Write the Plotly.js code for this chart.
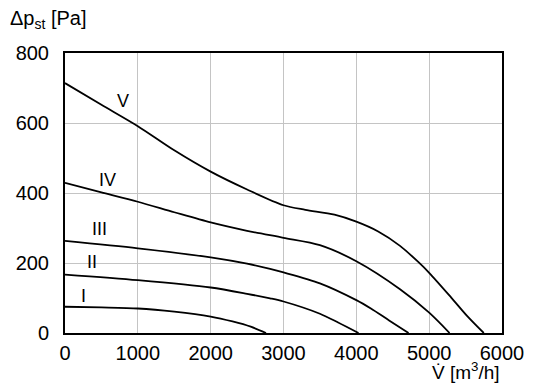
<!DOCTYPE html>
<html><head><meta charset="utf-8">
<script src="https://cdn.plot.ly/plotly-3.0.1.min.js"></script>
<style>html,body{margin:0;padding:0;background:#fff}#c{width:536px;height:388px}</style>
</head><body><div id="c"></div>
<script>
// Airflow [m3/h] and static pressure [Pa] for each speed step
const flowI   = [0, 500, 1000, 1500, 2000, 2300, 2550, 2760];
const presI   = [75, 73, 70, 61, 47, 33, 18, 0];
const flowII  = [0, 1000, 2000, 2500, 2816, 3000, 3500, 3750, 4030];
const presII  = [167, 151, 130, 112, 99, 90, 55, 30, 0];
const flowIII = [0, 1000, 2000, 2500, 2816, 3000, 3500, 4000, 4200, 4450, 4717];
const presIII = [263, 242, 216, 198, 183, 173, 142, 94, 70, 36, 0];
const flowIV  = [0, 500, 1000, 1500, 2000, 2500, 3000, 3500, 4000, 4600, 5000, 5280];
const presIV  = [429, 402, 375, 345, 316, 292, 272, 251, 205, 125, 58, 0];
const flowV   = [0, 500, 1000, 1500, 2000, 2500, 3000, 3300, 3700, 4000, 4300, 4600, 4850, 5000, 5300, 5520, 5750];
const presV   = [714, 652, 591, 522, 461, 410, 365, 352, 338, 318, 290, 249, 203, 172, 102, 49, 0];
const curveNames = ['I', 'II', 'III', 'IV', 'V'];
const labelX = [260, 370, 470, 590, 790];
const labelY = [105, 204, 296, 438, 662];

const xTicks = [0, 1000, 2000, 3000, 4000, 5000, 6000];
const yTicks = [0, 200, 400, 600, 800];

const FONT = '"Liberation Sans", Arial, sans-serif';
const flows = [flowI, flowII, flowIII, flowIV, flowV];
const press = [presI, presII, presIII, presIV, presV];

const traces = flows.map((f, i) => ({
  x: f, y: press[i], type: 'scatter', mode: 'lines', name: curveNames[i],
  line: {color: '#000', width: 1.8, shape: 'spline', smoothing: 0.8},
  hoverinfo: 'skip'
}));

const annotations = curveNames.map((n, i) => ({
  x: labelX[i], y: labelY[i], xref: 'x', yref: 'y', text: n, showarrow: false,
  font: {family: FONT, size: 18, color: '#000'}, xanchor: 'center', yanchor: 'middle'
}));
annotations.push({
  xref: 'paper', yref: 'paper', x: -0.13, y: 1.12, xanchor: 'left', yanchor: 'middle',
  text: 'Δp<sub>st</sub> [Pa]', showarrow: false, font: {family: FONT, size: 20, color: '#000'}
});
annotations.push({
  xref: 'paper', yref: 'paper', x: 1.0, y: -0.135, xanchor: 'right', yanchor: 'middle',
  text: 'V̇ [m<sup>3</sup>/h]', showarrow: false, font: {family: FONT, size: 19, color: '#000'}
});

const layout = {
  width: 536, height: 388,
  margin: {l: 65, r: 34, t: 53, b: 55},
  paper_bgcolor: '#fff', plot_bgcolor: '#fff',
  showlegend: false,
  font: {family: FONT, size: 20, color: '#000'},
  xaxis: {
    range: [0, 6000], tickvals: xTicks, ticktext: xTicks.map(String),
    showgrid: true, gridcolor: '#c4c4c4', gridwidth: 1, zeroline: false,
    showline: true, linecolor: '#000', linewidth: 2, mirror: true,
    ticks: '', ticklabelstandoff: 1, fixedrange: true
  },
  yaxis: {
    range: [0, 800], tickvals: yTicks, ticktext: yTicks.map(String),
    showgrid: true, gridcolor: '#c4c4c4', gridwidth: 1, zeroline: false,
    showline: true, linecolor: '#000', linewidth: 2, mirror: true,
    ticks: '', ticklabelstandoff: 10, fixedrange: true
  },
  annotations: annotations
};

Plotly.newPlot('c', traces, layout, {staticPlot: true, displayModeBar: false});
</script></body></html>
